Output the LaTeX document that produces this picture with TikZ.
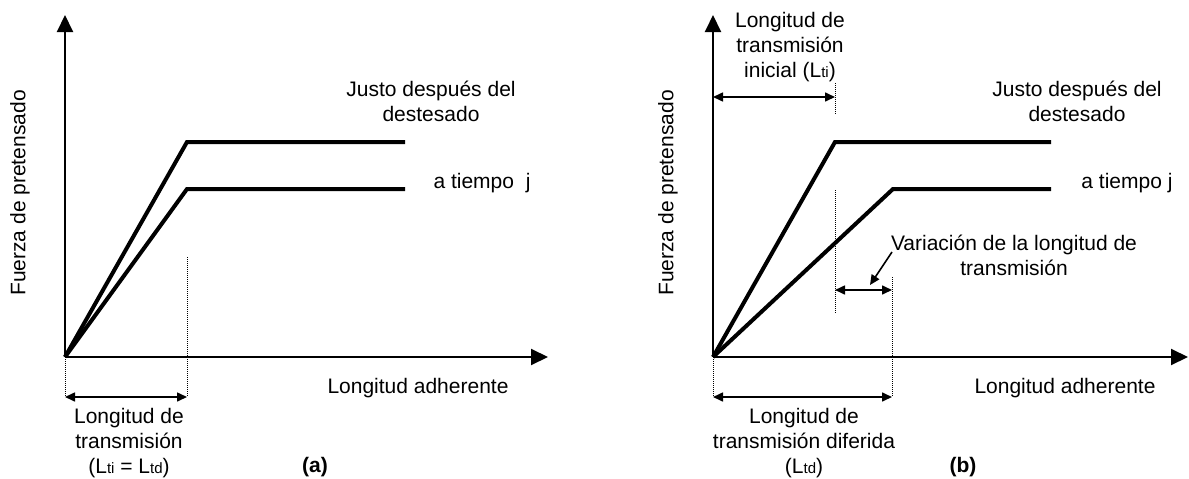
\documentclass[tikz,border=0pt]{standalone}
\usepackage{fontspec}
\setmainfont{Liberation Sans}
\usetikzlibrary{arrows.meta}
\newcommand{\smallsub}[1]{{\fontsize{15}{15}\selectfont #1}}
\begin{document}
\begin{tikzpicture}[x=1pt,y=-1pt,
  lbl/.style={font=\fontsize{21}{25}\selectfont, align=center, inner sep=0pt},
  tag/.style={font=\fontsize{21}{25}\selectfont\bfseries, inner sep=0pt},
  axis/.style={line width=2pt, -{Triangle[length=17pt,width=16pt]}},
  curve/.style={line width=4pt},
  guide/.style={line width=0.8pt, dash pattern=on 1pt off 1pt},
  dim/.style={line width=1.6pt, {Triangle[length=10pt,width=9pt]}-{Triangle[length=10pt,width=9pt]}},
  lead/.style={line width=1.6pt, -{Triangle[length=10pt,width=9pt]}}]
\useasboundingbox (0,0) rectangle (1189,479);
% ---------- panel (a)
\coordinate (oa) at (65,357);
\coordinate (ya) at (65,15);
\coordinate (xa) at (548,357);
\coordinate (ua) at (187,142);
\coordinate (uae) at (405,142);
\coordinate (la) at (187,189);
\coordinate (lae) at (405,189);
\coordinate (ga1) at (187,257);
\coordinate (ga2) at (187,397);
\coordinate (ga3) at (65,397);
\draw[axis] (oa) -- (ya);
\draw[axis] (oa) -- (xa);
\draw[curve] (oa) -- (ua) -- (uae);
\draw[curve] (oa) -- (la) -- (lae);
\draw[guide] (ga1) -- (ga2);
\draw[guide] (oa) -- (ga3);
\draw[dim] (ga3) -- (ga2);
\node[lbl] (ja) at (431,101) {Justo después del\\destesado};
\node[lbl] (ta) at (482,183) {a tiempo\ \ j};
\node[lbl] (xla) at (418,388) {Longitud adherente};
\node[lbl] (lta) at (129,443) {Longitud de\\transmisión\\(L\smallsub{ti} = L\smallsub{td})};
\node[lbl, rotate=90] (fa) at (20,193) {Fuerza de pretensado};
\node[tag] (capa) at (315,467) {(a)};
% ---------- panel (b)
\coordinate (ob) at (713,357);
\coordinate (yb) at (713,15);
\coordinate (xb) at (1188,357);
\coordinate (ub) at (835,142);
\coordinate (ube) at (1051,142);
\coordinate (lb) at (893,189);
\coordinate (lbe) at (1051,189);
\coordinate (gb1) at (835,83);
\coordinate (gb2) at (835,115);
\coordinate (gb3) at (835,190);
\coordinate (gb4) at (835,313);
\coordinate (gb5) at (892,277);
\coordinate (gb6) at (892,397);
\coordinate (gb7) at (713,397);
\coordinate (di1) at (713,97);
\coordinate (di2) at (835,97);
\coordinate (dv1) at (835,290);
\coordinate (dv2) at (892,290);
\coordinate (ls) at (892,252);
\coordinate (le) at (870,285);
\draw[axis] (ob) -- (yb);
\draw[axis] (ob) -- (xb);
\draw[curve] (ob) -- (ub) -- (ube);
\draw[curve] (ob) -- (lb) -- (lbe);
\draw[guide] (gb1) -- (gb2);
\draw[guide] (gb3) -- (gb4);
\draw[guide] (gb5) -- (gb6);
\draw[guide] (ob) -- (gb7);
\draw[dim] (di1) -- (di2);
\draw[dim] (dv1) -- (dv2);
\draw[dim] (gb7) -- (gb6);
\draw[lead] (ls) -- (le);
\node[lbl] (ltib) at (790,47) {Longitud de\\transmisión\\inicial (L\smallsub{ti})};
\node[lbl] (jb) at (1077,101) {Justo después del\\destesado};
\node[lbl] (tb) at (1127,183) {a tiempo j};
\node[lbl] (vb) at (1014,255) {Variación de la longitud de\\transmisión};
\node[lbl] (xlb) at (1065,388) {Longitud adherente};
\node[lbl] (ltdb) at (804,443) {Longitud de\\transmisión diferida\\(L\smallsub{td})};
\node[lbl, rotate=90] (fb) at (668,193) {Fuerza de pretensado};
\node[tag] (capb) at (963,467) {(b)};
\end{tikzpicture}
\end{document}
